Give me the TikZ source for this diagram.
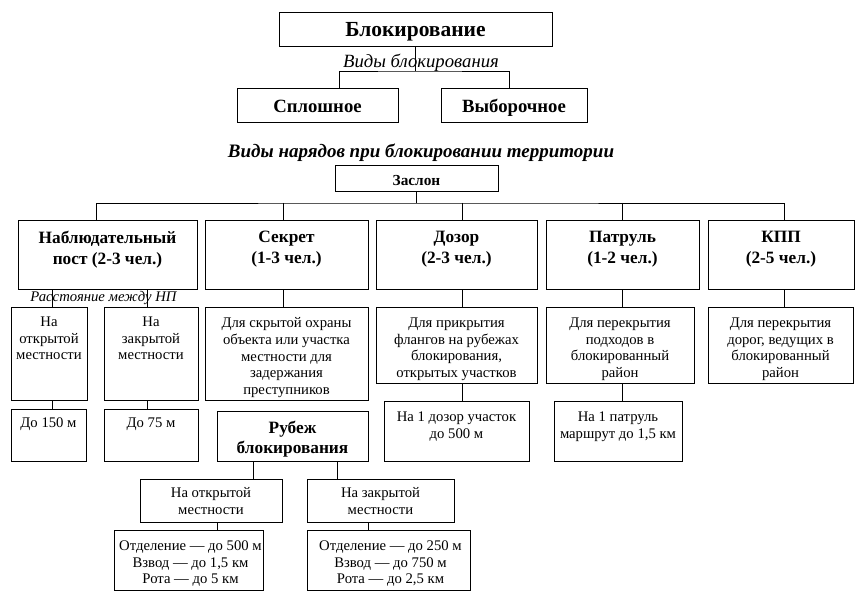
\documentclass[tikz,border=0pt]{standalone}
\usepackage{fontspec}
\setmainfont{Liberation Serif}
\begin{document}
\begin{tikzpicture}[x=1pt,y=-1pt,
  box/.style={draw, line width=0.8pt, inner sep=0pt},
  ln/.style={line width=0.8pt},
  hd/.style={font=\fontsize{17.3}{20.5}\selectfont\bfseries, align=center, inner sep=0pt, anchor=north},
  sm/.style={font=\fontsize{14.7}{16.7}\selectfont, align=center, inner sep=0pt, anchor=north}]
\useasboundingbox[fill=white] (0,0) rectangle (857,609);
% top level
\node[box, text height=16pt, text depth=0pt, minimum width=273pt, minimum height=34pt, font=\fontsize{21.5}{24}\selectfont\bfseries] (top) at (415.5,29) {Блокирование};
\node[box, text height=15.4pt, text depth=0pt, minimum width=161pt, minimum height=34pt, font=\fontsize{18.7}{21}\selectfont\bfseries] (spl) at (317.5,105) {Сплошное};
\node[box, text height=15.4pt, text depth=0pt, minimum width=146pt, minimum height=34pt, font=\fontsize{18.7}{21}\selectfont\bfseries] (vyb) at (514,105) {Выборочное};
\node[inner sep=0pt, font=\fontsize{18.7}{21}\selectfont\itshape] (lab1) at (421,63) {Виды блокирования};
\node[inner sep=0pt, font=\fontsize{19}{22}\selectfont\bfseries\itshape] (lab2) at (421,153) {Виды нарядов при блокировании территории};
\node[box, text height=15.5pt, text depth=0pt, minimum width=163pt, minimum height=26pt, font=\fontsize{15.3}{18}\selectfont\bfseries] (zas) at (416.5,178) {Заслон};
% second row
\node[box, minimum width=179pt, minimum height=69pt] (nab) at (107.5,254.5) {};
\node[box, minimum width=163pt, minimum height=69pt] (sek) at (286.5,254.5) {};
\node[box, minimum width=161pt, minimum height=69pt] (doz) at (456.5,254.5) {};
\node[box, minimum width=153pt, minimum height=69pt] (pat) at (622.5,254.5) {};
\node[box, minimum width=146pt, minimum height=69pt] (kpp) at (781,254.5) {};
\node[hd] (tnab) at ([yshift=-11.5pt]nab.north) {Наблюдательный\\пост (2-3 чел.)};
\node[hd] (tsek) at ([yshift=-11.5pt]sek.north) {Секрет\\(1-3 чел.)};
\node[hd] (tdoz) at ([yshift=-11.5pt]doz.north) {Дозор\\(2-3 чел.)};
\node[hd] (tpat) at ([yshift=-11.5pt]pat.north) {Патруль\\(1-2 чел.)};
\node[hd] (tkpp) at ([yshift=-11.5pt]kpp.north) {КПП\\(2-5 чел.)};
% third row
\node[box, minimum width=76pt, minimum height=93pt] (nab1) at (49,353.5) {};
\node[box, minimum width=94pt, minimum height=93pt] (nab2) at (151,353.5) {};
\node[box, minimum width=163pt, minimum height=93pt] (sek1) at (286.5,353.5) {};
\node[box, minimum width=161pt, minimum height=76pt] (doz1) at (456.5,345) {};
\node[box, minimum width=148pt, minimum height=76pt] (pat1) at (620,345) {};
\node[box, minimum width=145pt, minimum height=76pt] (kpp1) at (780.5,345) {};
\node[sm] (tnab1) at ([yshift=-10pt]nab1.north) {На\\открытой\\местности};
\node[sm] (tnab2) at ([yshift=-10pt]nab2.north) {На\\закрытой\\местности};
\node[sm] (tsek1) at ([yshift=-11pt]sek1.north) {Для скрытой охраны\\объекта или участка\\местности для\\задержания\\преступников};
\node[sm] (tdoz1) at ([yshift=-11pt]doz1.north) {Для прикрытия\\флангов на рубежах\\блокирования,\\открытых участков};
\node[sm] (tpat1) at ([yshift=-11pt]pat1.north) {Для перекрытия\\подходов в\\блокированный\\район};
\node[sm] (tkpp1) at ([yshift=-11pt]kpp1.north) {Для перекрытия\\дорог, ведущих в\\блокированный\\район};
\node[inner sep=0pt, font=\fontsize{14.7}{17}\selectfont\itshape] (lab3) at (103.5,298) {Расстояние между НП};
% fourth row
\node[box, minimum width=75pt, minimum height=52pt] (d150) at (48.5,435) {};
\node[box, minimum width=94pt, minimum height=52pt] (d75) at (151,435) {};
\node[box, minimum width=151pt, minimum height=50pt] (rub) at (292.5,436) {};
\node[box, minimum width=145pt, minimum height=60pt] (doz2) at (456.5,431) {};
\node[box, minimum width=128pt, minimum height=60pt] (pat2) at (618,431) {};
\node[sm] (td150) at ([yshift=-9pt]d150.north) {До 150 м};
\node[sm] (td75) at ([yshift=-9pt]d75.north) {До 75 м};
\node[hd] (trub) at ([yshift=-10pt]rub.north) {Рубеж\\блокирования};
\node[sm] (tdoz2) at ([yshift=-11pt]doz2.north) {На 1 дозор участок\\до 500 м};
\node[sm] (tpat2) at ([yshift=-11pt]pat2.north) {На 1 патруль\\маршрут до 1,5 км};
% fifth and sixth rows
\node[box, minimum width=142pt, minimum height=43pt] (otk) at (211,500.5) {};
\node[box, minimum width=147pt, minimum height=43pt] (zak) at (380.5,500.5) {};
\node[sm] (totk) at ([yshift=-9pt]otk.north) {На открытой\\местности};
\node[sm] (tzak) at ([yshift=-9pt]zak.north) {На закрытой\\местности};
\node[box, minimum width=149pt, minimum height=60pt] (b1) at (188.5,560) {};
\node[box, minimum width=163pt, minimum height=60pt] (b2) at (388.5,560) {};
\node[sm] (tb1) at ([yshift=-11pt,xshift=2pt]b1.north) {Отделение — до 500 м\\Взвод — до 1,5 км\\Рота — до 5 км};
\node[sm] (tb2) at ([yshift=-11pt,xshift=2pt]b2.north) {Отделение — до 250 м\\Взвод — до 750 м\\Рота — до 2,5 км};
% coordinates
\coordinate (j0) at (415.5,71);
\coordinate (c339) at (339,0);
\coordinate (c509) at (509,0);
\coordinate (j1) at (416.5,203);
\foreach \xx in {96,283,462,622,784,52,147,253,337,217,368} {\coordinate (x\xx) at (\xx,0);}
% connectors
\draw[ln] (top.south) -- (j0);
\draw[ln] (spl.north -| c339) |- (j0) -| (vyb.north -| c509);
\draw[ln] (zas.south) -- (j1);
\draw[ln] (nab.north -| x96) |- (j1) -| (kpp.north -| x784);
\draw[ln] (j1 -| x283) -- (sek.north -| x283);
\draw[ln] (j1 -| x462) -- (doz.north -| x462);
\draw[ln] (j1 -| x622) -- (pat.north -| x622);
\draw[ln] (nab.south -| x52) -- (nab1.north -| x52);
\draw[ln] (nab.south -| x147) -- (nab2.north -| x147);
\draw[ln] (nab1.south -| x52) -- (d150.north -| x52);
\draw[ln] (nab2.south -| x147) -- (d75.north -| x147);
\draw[ln] (sek.south -| x283) -- (sek1.north -| x283);
\draw[ln] (doz.south -| x462) -- (doz1.north -| x462);
\draw[ln] (doz1.south -| x462) -- (doz2.north -| x462);
\draw[ln] (pat.south -| x622) -- (pat1.north -| x622);
\draw[ln] (pat1.south -| x622) -- (pat2.north -| x622);
\draw[ln] (kpp.south -| x784) -- (kpp1.north -| x784);
\draw[ln] (rub.south -| x253) -- (otk.north -| x253);
\draw[ln] (rub.south -| x337) -- (zak.north -| x337);
\draw[ln] (otk.south -| x217) -- (b1.north -| x217);
\draw[ln] (zak.south -| x368) -- (b2.north -| x368);
\end{tikzpicture}
\end{document}
